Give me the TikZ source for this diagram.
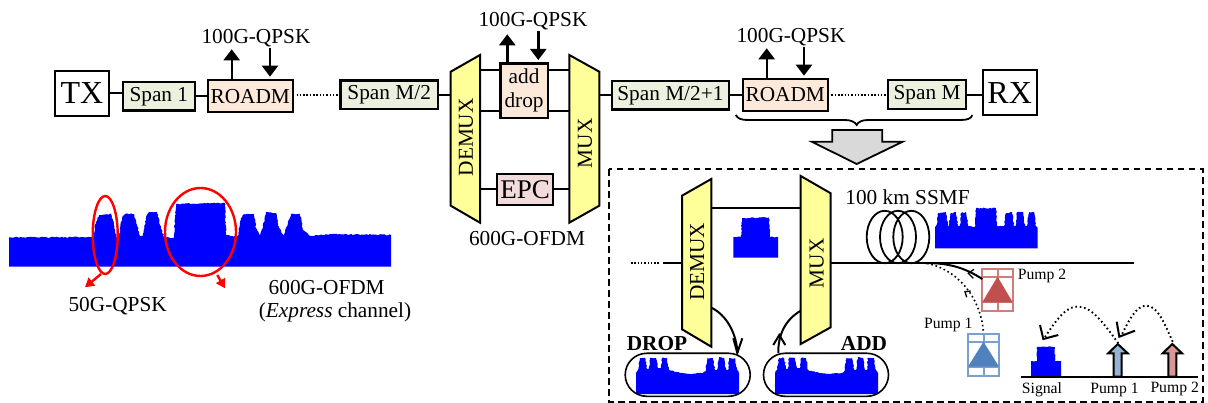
\documentclass[tikz,border=0pt]{standalone}
\usepackage{fontspec}
\setmainfont{Liberation Serif}
\usetikzlibrary{arrows.meta,decorations.pathmorphing,shapes.misc}
\definecolor{yel}{HTML}{FFFF99}
\definecolor{spanc}{HTML}{EBF1DE}
\definecolor{roadmc}{HTML}{FDE9D9}
\definecolor{epcc}{HTML}{F2DCDB}
\definecolor{pumpr}{HTML}{C0504D}
\definecolor{pumpb}{HTML}{4F81BD}
\definecolor{lblue}{HTML}{95B3D7}
\definecolor{lpink}{HTML}{D99694}
\tikzset{
 txt/.style={font=\fontsize{21.3}{24}\selectfont,inner sep=0pt},
 sml/.style={font=\fontsize{15.7}{18}\selectfont,inner sep=0pt},
 bld/.style={font=\fontsize{21.3}{24}\selectfont\bfseries,inner sep=0pt},
 box/.style={draw=black,line width=2.4pt,inner sep=0pt,font=\fontsize{21.3}{24}\selectfont},
 spanbox/.style={box,fill=spanc},
 roadmbox/.style={box,fill=roadmc,minimum width=85pt,minimum height=32pt},
 endbox/.style={draw=black,line width=1.8pt,inner sep=0pt,font=\fontsize{32}{34}\selectfont,minimum width=54pt,minimum height=45pt},
 conn/.style={line width=2pt},
 dots/.style={line width=1.8pt,dash pattern=on 1.5pt off 1.8pt},
 bigdots/.style={line width=1.9pt,dash pattern=on 1.6pt off 2.8pt},
 arr/.style={line width=2.4pt,-{Triangle[width=16pt,length=11pt]}},
 trap/.style={draw=black,fill=yel,line width=2pt,line join=miter},
 redarr/.style={draw=red,line width=2.4pt,-{Triangle[width=10pt,length=9pt]}},
 redring/.style={draw=red,line width=2.4pt},
 spec/.style={fill=blue},
 jag/.style={decoration={random steps,segment length=1.6pt,amplitude=0.6pt}},
 vee/.style={line width=2pt,line join=miter},
 pumpframe/.style={line width=2pt},
 smallarr/.style={draw=black,line width=2pt,line join=miter},
}
\begin{document}
\begin{tikzpicture}[x=1pt,y=-1pt]
\pgfmathsetseed{7}
\useasboundingbox (0,0) rectangle (1208,403);
% top chain nodes
\node[endbox] (tx) at (82,93.5) {TX};
\node[spanbox,minimum width=72pt,minimum height=28.5pt] (s1) at (158.8,96.3) {Span 1};
\node[roadmbox] (r1) at (250.3,96.1) {ROADM};
\node[spanbox,minimum width=97.5pt,minimum height=28.5pt] (sm2) at (389.2,94.7) {Span M/2};
\node[box,fill=roadmc,minimum width=47.5pt,minimum height=54.5pt,align=center] (ad) at (524.1,90.7) {\fontsize{21.3}{27}\selectfont add\\drop};
\node[box,fill=epcc,minimum width=56pt,minimum height=31pt,font=\fontsize{27}{29}\selectfont] (epc) at (525.1,189.8) {EPC};
\node[spanbox,minimum width=117pt,minimum height=28.5pt] (sm21) at (670.4,95.4) {Span M/2+1};
\node[roadmbox] (r2) at (785.2,94.9) {ROADM};
\node[spanbox,minimum width=78.3pt,minimum height=29pt] (sm) at (927,94.5) {Span M};
\node[endbox] (rx) at (1009.7,92.7) {RX};
\draw[conn] (tx.east) -- (tx.east -| s1.west);
\draw[conn] (s1.east |- r1.west) -- (r1.west);
\draw[dots] (r1.east |- 0,95) ++(2.5,0) coordinate (d1) -- (sm2.west |- d1);
\draw[dots] (r2.east |- 0,95) ++(2.5,0) coordinate (d2) -- (sm.west |- d2);
\draw[conn] (sm21.east |- r2.west) -- (r2.west);
\draw[conn] (sm.east |- 0,95) coordinate (e3) -- (rx.west |- e3);
% upper mux pair
\draw[trap] (450.7,71.7) -- (480,55) -- (480,222.7) -- (450.7,205.7) -- cycle;
\draw[trap] (569.3,55) -- (599.3,71.7) -- (599.3,205.7) -- (569.3,222.7) -- cycle;
\node[txt,rotate=90] (demuxU) at (466,137.3) {DEMUX};
\node[txt,rotate=90] (muxU) at (585,143.3) {MUX};
\coordinate (dui) at (450.7,95);
\coordinate (muo) at (599.3,95);
\coordinate (du1) at (480,70.3);
\coordinate (du2) at (480,111.3);
\coordinate (du3) at (480,189.3);
\coordinate (mu1) at (569.3,70.3);
\coordinate (mu2) at (569.3,111.3);
\coordinate (mu3) at (569.3,189.3);
\draw[conn] (sm2.east |- dui) -- (dui);
\draw[conn] (muo) -- (sm21.west |- muo);
\draw[conn] (du1) -- (ad.west |- du1);
\draw[conn] (du2) -- (ad.west |- du2);
\draw[conn] (du3) -- (epc.west |- du3);
\draw[conn] (ad.east |- mu1) -- (mu1);
\draw[conn] (ad.east |- mu2) -- (mu2);
\draw[conn] (epc.east |- mu3) -- (mu3);
% add/drop labels and arrows
\node[txt] (q1) at (256,38) {100G-QPSK};
\node[txt] (q2) at (533,21) {100G-QPSK};
\node[txt] (q3) at (791,36.7) {100G-QPSK};
\coordinate (q1u) at (231.7,49.3); \coordinate (r1u) at (231.7,79);
\coordinate (q1d) at (270,48); \coordinate (r1d) at (270,76.7);
\coordinate (q2u) at (507.3,34.3); \coordinate (adu) at (507.3,62.3);
\coordinate (q2d) at (538.3,31); \coordinate (add) at (538.3,60);
\coordinate (q3u) at (766.7,48.3); \coordinate (r2u) at (766.7,77.7);
\coordinate (q3d) at (804,46.7); \coordinate (r2d) at (804,75.7);
\draw[arr] (r1u) -- (q1u);
\draw[arr] (q1d) -- (r1d);
\draw[arr] (adu) -- (q2u);
\draw[arr] (q2d) -- (add);
\draw[arr] (r2u) -- (q3u);
\draw[arr] (q3d) -- (r2d);
\node[txt] (ofdm) at (527,238.3) {600G-OFDM};
% brace and gray arrow
\draw[line width=1.8pt] (735.7,115) .. controls (738,119) and (742,120) .. (748,120) -- (845,120) .. controls (851,120) and (855,122) .. (856.7,125) .. controls (858,122) and (862,120) .. (868,120) -- (960,120) .. controls (967,120) and (971,119) .. (972.3,115);
\draw[draw=black,fill=black!15,line width=1.8pt,line join=miter] (832.3,130) -- (882.3,130) -- (882.3,141.7) -- (902.7,141.7) -- (856.7,164) -- (811.7,141.7) -- (832.3,141.7) -- cycle;
% left spectrum
\fill[spec] (9,266.7) -- (9,237.5) decorate[jag]{ -- (93,237) -- (96,222) -- (99,215) -- (111,214) -- (114,225) -- (116,237) -- (119,236) -- (122,218) -- (125,214) -- (134,214) -- (137,225) -- (140,236) -- (143,236) -- (146,218) -- (149,212) -- (157,212) -- (160,225) -- (164,237) -- (174,238) -- (176,204) -- (225,203) -- (226,235) -- (232,236) -- (238,236) -- (241,218) -- (244,214) -- (254,214) -- (256,228) -- (260,236) -- (264,222) -- (266,212) -- (276,213) -- (279,228) -- (284,236) -- (288,222) -- (291,214) -- (300,214) -- (303,230) -- (310,236) -- (330,234) -- (391,235)} -- (391,266.7) -- cycle;
\draw[redring] (105.2,235) ellipse [x radius=12.5pt,y radius=39pt];
\draw[redring] (200.5,232) ellipse [x radius=35.5pt,y radius=44pt];
\coordinate (e1b) at (101,274); \coordinate (e1t) at (85,287.3);
\coordinate (e2b) at (217.3,275); \coordinate (e2t) at (225,288.3);
\draw[redarr] (e1b) -- (e1t);
\draw[redarr] (e2b) -- (e2t);
\node[txt] (l50) at (117.7,306) {50G-QPSK};
\node[txt] (l600) at (326.7,287.3) {600G-OFDM};
\node[txt] (lexp) at (335,312.7) {(\textit{Express} channel)};
% dashed frame
\draw[line width=1.8pt,dash pattern=on 6.5pt off 4.5pt] (609.3,169.3) rectangle (1202.7,402.3);
% lower mux pair
\draw[trap] (682,195.7) -- (711.3,179) -- (711.3,346.7) -- (682,329.3) -- cycle;
\draw[trap] (800.7,176) -- (830.7,193.3) -- (830.7,327.3) -- (800.7,344) -- cycle;
\node[txt,rotate=90] (demuxL) at (697.3,261.7) {DEMUX};
\node[txt,rotate=90] (muxL) at (816.7,263.3) {MUX};
\coordinate (dl1) at (711.3,207.7);
\coordinate (ml1) at (800.7,207.7);
\draw[conn] (dl1) -- (ml1);
\coordinate (inA) at (663.3,263.3); \coordinate (dli) at (682,263.3);
\coordinate (inB) at (631,263.3); \coordinate (inC) at (659,263.3);
\draw[conn] (inA) -- (dli);
\draw[dots] (inB) -- (inC);
\coordinate (mlo) at (830.7,262.7); \coordinate (fibE) at (1134.3,262.7); \coordinate (jn) at (925,263);
\draw[conn] (mlo) -- (fibE);
% coils
\foreach \cx in {884.7,898,911.3} \draw[line width=1.8pt] (\cx,237) ellipse [x radius=18pt,y radius=26.2pt];
\node[txt] (ssmf) at (907.5,197.3) {100 km SSMF};
% small spectra
\fill[spec] (935,248.3) -- (935,228) decorate[jag]{ -- (937,224) -- (938,213) -- (946,212) -- (948,226) -- (949,226) -- (950,214) -- (956,212) -- (958,226) -- (960,226) -- (961,213) -- (966,212) -- (968,226) -- (975,227) -- (976,208) -- (996,208) -- (997,226) -- (1004,226) -- (1006,213) -- (1012,212) -- (1014,226) -- (1016,226) -- (1017,212) -- (1023,212) -- (1025,226) -- (1027,226) -- (1029,212) -- (1034,212) -- (1036,226) -- (1037.7,228)} -- (1037.7,248.3) -- cycle;
\fill[spec] (733.3,257.7) -- (733.3,237) decorate[jag]{ -- (741,237) -- (742,218) -- (769,217.5) -- (770,237) -- (778,237)} -- (778,257.7) -- cycle;
\fill[spec] (1031,376.7) -- (1031,361) decorate[jag]{ -- (1037,361) -- (1037,347) -- (1055,347) -- (1055,361) -- (1061,361)} -- (1061,376.7) -- cycle;
\foreach \dx in {0,139} {
\begin{scope}[xshift=\dx pt]
\fill[spec] (636,394) -- (636,373) decorate[jag]{ -- (638,370) -- (640,358) -- (645,358) -- (647,369) -- (649,369) -- (650,358) -- (656,358) -- (658,368) -- (661,368) -- (662,358) -- (667,358) -- (669,370) -- (680,373) -- (690,374) -- (703,373) -- (706,370) -- (707,358) -- (713,358) -- (715,370) -- (717,370) -- (719,357) -- (724,358) -- (726,370) -- (728,370) -- (729,358) -- (735,358) -- (737,370) -- (739,373)} -- (739,394) -- cycle;
\end{scope}}
% pills
\node[draw=black,line width=1.6pt,rounded rectangle,minimum width=125pt,minimum height=43pt,inner sep=0pt] (pd) at (687.7,374.8) {};
\node[draw=black,line width=1.6pt,rounded rectangle,minimum width=125pt,minimum height=43pt,inner sep=0pt] (pa) at (826,374.8) {};
\node[bld] (ldrop) at (657,344) {DROP};
\node[bld] (ladd) at (864,343) {ADD};
\coordinate (ds) at (711.3,307.7); \coordinate (de) at (737.3,353);
\coordinate (ms) at (800.7,310.7); \coordinate (me) at (778.3,353);
\draw[conn] (ds) .. controls (727,315) and (737,335) .. (de);
\draw[vee] (733.3,338.3) -- (de) -- (742.3,338.3);
\draw[conn] (ms) .. controls (785,320) and (778,335) .. (me);
\draw[vee] (773.3,345) -- (779.3,335) -- (785.3,345);
% pumps
\begin{scope}
\draw[pumpr!75!white,pumpframe] (982.3,269.3) rectangle (1012.7,311);
\draw[pumpr!75!white,pumpframe] (982.3,276.7) -- (1012.7,276.7) (982.3,302.3) -- (1012.7,302.3) (997.5,269.3) -- (997.5,311);
\fill[pumpr] (982.3,302.3) -- (1012.7,302.3) -- (997.5,276.7) -- cycle;
\draw[pumpb!75!white,pumpframe] (968,334) rectangle (999,375.7);
\draw[pumpb!75!white,pumpframe] (968,341.7) -- (999,341.7) (968,366.7) -- (999,366.7) (983.5,334) -- (983.5,375.7);
\fill[pumpb] (968,366.7) -- (999,366.7) -- (983.5,341.7) -- cycle;
\end{scope}
\node[sml,anchor=west] (lp2) at (1017.7,276) {Pump 2};
\node[sml,anchor=east] (lp1) at (972.7,325) {Pump 1};
\coordinate (p2s) at (982.3,279);
\coordinate (p1s) at (983.3,330.7);
\draw[conn] (p2s) .. controls (965,268) and (950,263) .. (jn);
\draw[vee,line width=1.3pt] (974,269.3) -- (968.3,273.3) -- (973.3,278.3);
\draw[bigdots,line width=1.6pt] (p1s) .. controls (980,295) and (955,268) .. (jn);
\draw[vee,line width=1.3pt] (970.7,291) -- (965,291.7) -- (966.7,297.3);
% spectrum sketch
\coordinate (axL) at (1021,376.7); \coordinate (axR) at (1197.7,376.7);
\draw[line width=2pt] (axL) -- (axR);
\draw[smallarr,fill=lblue] (1113.7,376.7) -- (1113.7,353.3) -- (1108.3,353.3) -- (1117.7,344) -- (1127.7,353.3) -- (1121.7,353.3) -- (1121.7,376.7) -- cycle;
\draw[smallarr,fill=lpink] (1168.3,376.7) -- (1168.3,353.3) -- (1162.7,353.3) -- (1172.3,344) -- (1182,353.3) -- (1176.3,353.3) -- (1176.3,376.7) -- cycle;
\node[sml] (ls) at (1042,390) {Signal};
\node[sml] (lb1) at (1114.5,390) {Pump 1};
\node[sml] (lb2) at (1174.7,389) {Pump 2};
\coordinate (a1s) at (1118.3,343.3); \coordinate (a1e) at (1045,337);
\coordinate (a2s) at (1172.7,341.7); \coordinate (a2e) at (1121.7,335);
\draw[bigdots] (a1s) .. controls (1100,318) and (1090,306) .. (1076.7,306.7) .. controls (1065,307) and (1055,322) .. (a1e);
\draw[bigdots] (a2s) .. controls (1165,325) and (1158,306) .. (1146.7,305.7) .. controls (1136,305) and (1128,322) .. (a2e);
\draw[vee] (1040,325) -- (1043.3,339) -- (1058.3,335);
\draw[vee] (1116.7,321.7) -- (1119.3,336.7) -- (1135,330.7);
\end{tikzpicture}
\end{document}
